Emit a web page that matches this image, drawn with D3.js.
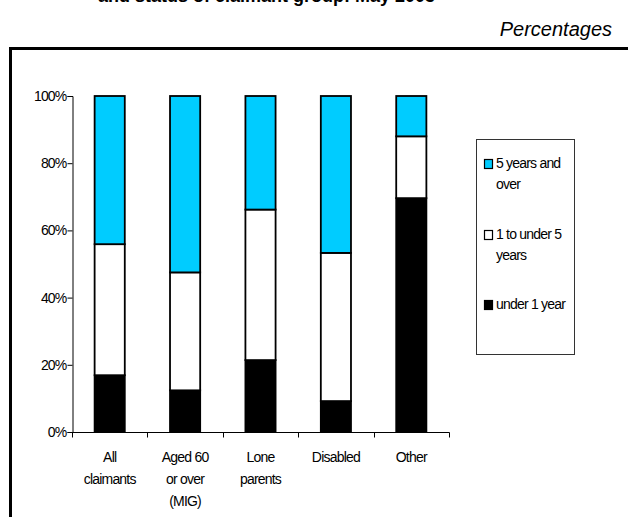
<!DOCTYPE html>
<html>
<head>
<meta charset="utf-8">
<script src="https://cdn.jsdelivr.net/npm/d3@7"></script>
<style>
  body { margin: 0; background: #fff; }
  svg { display: block; font-family: "Liberation Sans", Arial, sans-serif; }
</style>
</head>
<body>
<svg id="chart" width="628" height="517"></svg>
<script>
// data (percent of each group)
const categories = [["All", "claimants"], ["Aged 60", "or over", "(MIG)"], ["Lone", "parents"], ["Disabled"], ["Other"]];
const under1 = [16.9, 12.4, 21.4, 9.2, 69.6];
const oneTo5 = [39.0, 35.1, 44.8, 44.1, 18.4];
const over5 = [44.1, 52.5, 33.8, 46.7, 12.0];
const seriesNames = ["under 1 year", "1 to under 5 years", "5 years and over"];
const legendLines = [["5 years and", "over"], ["1 to under 5", "years"], ["under 1 year"]];
const yTicks = [0, 0.2, 0.4, 0.6, 0.8, 1];

const colors = ["#000000", "#ffffff", "#00ccff"];
const svg = d3.select("#chart");

// title (cut off at the top of the page, as in the source) and unit note
svg.append("text")
   .attr("x", 98).attr("y", 2)
   .attr("font-size", 18).attr("font-weight", "bold")
   .text("and status of claimant group: May 2003");

svg.append("text")
   .attr("x", 612).attr("y", 36)
   .attr("text-anchor", "end")
   .attr("font-size", 20).attr("font-style", "italic")
   .text("Percentages");

// outer frame, runs off the right and bottom edges
svg.append("rect")
   .attr("x", 10.5).attr("y", 48.5)
   .attr("width", 700).attr("height", 600)
   .attr("fill", "none").attr("stroke", "#000").attr("stroke-width", 3);

const table = categories.map((c, i) => ({
    key: c.join(" "),
    lines: c,
    "under 1 year": under1[i],
    "1 to under 5 years": oneTo5[i],
    "5 years and over": over5[i]
}));

const stack = d3.stack().keys(seriesNames)(table);

const x = d3.scaleBand()
    .domain(table.map(d => d.key))
    .range([72, 449])
    .padding(0);

const y = d3.scaleLinear().domain([0, 100]).range([432, 96]);

const barW = x.bandwidth() * 0.4;

svg.selectAll("g.layer")
   .data(stack)
   .join("g")
   .attr("class", "layer")
   .attr("fill", (d, i) => colors[i])
   .selectAll("rect")
   .data(d => d)
   .join("rect")
   .attr("x", d => x(d.data.key) + (x.bandwidth() - barW) / 2)
   .attr("y", d => y(d[1]))
   .attr("width", barW)
   .attr("height", d => y(d[0]) - y(d[1]))
   .attr("stroke", "#000")
   .attr("stroke-width", 1.8);

// y axis
const yAxis = svg.append("g")
   .attr("transform", "translate(72.5,0)")
   .call(d3.axisLeft(y).tickValues(yTicks.map(v => v * 100)).tickSize(5).tickPadding(1)
         .tickFormat(v => v + "%"));
yAxis.select(".domain").attr("stroke", "#000");
yAxis.selectAll("text")
   .attr("font-size", 14).attr("letter-spacing", -0.8)
   .attr("font-family", "Liberation Sans, Arial, sans-serif")
   .attr("fill", "#000");

// x axis with ticks on the category boundaries
const xAxis = svg.append("g").attr("transform", "translate(0,432.5)");
xAxis.append("line")
   .attr("x1", 72).attr("x2", 449.5)
   .attr("stroke", "#000");
const bounds = x.domain().map(k => x(k)).concat([x.range()[1]]);
xAxis.selectAll("line.tick")
   .data(bounds)
   .join("line")
   .attr("class", "tick")
   .attr("x1", d => Math.round(d) + 0.5).attr("x2", d => Math.round(d) + 0.5)
   .attr("y1", 0).attr("y2", 5)
   .attr("stroke", "#000");

const xLabels = svg.append("g");
table.forEach(d => {
    const t = xLabels.append("text")
        .attr("text-anchor", "middle")
        .attr("font-size", 14)
        .attr("letter-spacing", -0.8);
    d.lines.forEach((line, j) => {
        t.append("tspan")
         .attr("x", x(d.key) + x.bandwidth() / 2)
         .attr("y", 462 + j * 22)
         .text(line);
    });
});

// legend
const legend = svg.append("g");
legend.append("rect")
   .attr("x", 476.5).attr("y", 139.5)
   .attr("width", 98).attr("height", 215)
   .attr("fill", "#fff").attr("stroke", "#333").attr("stroke-width", 1);

const legendTop = [159, 230, 300];
const legendColors = [colors[2], colors[1], colors[0]];
legendLines.forEach((lines, i) => {
    legend.append("rect")
       .attr("x", 484.5).attr("y", legendTop[i] + 0.5)
       .attr("width", 8).attr("height", 9)
       .attr("fill", legendColors[i])
       .attr("stroke", "#000").attr("stroke-width", 1.2);
    const t = legend.append("text")
       .attr("font-size", 14)
       .attr("letter-spacing", -0.8);
    lines.forEach((line, j) => {
        t.append("tspan")
         .attr("x", 496)
         .attr("y", legendTop[i] + 9 + j * 21)
         .text(line);
    });
});
</script>
</body>
</html>
